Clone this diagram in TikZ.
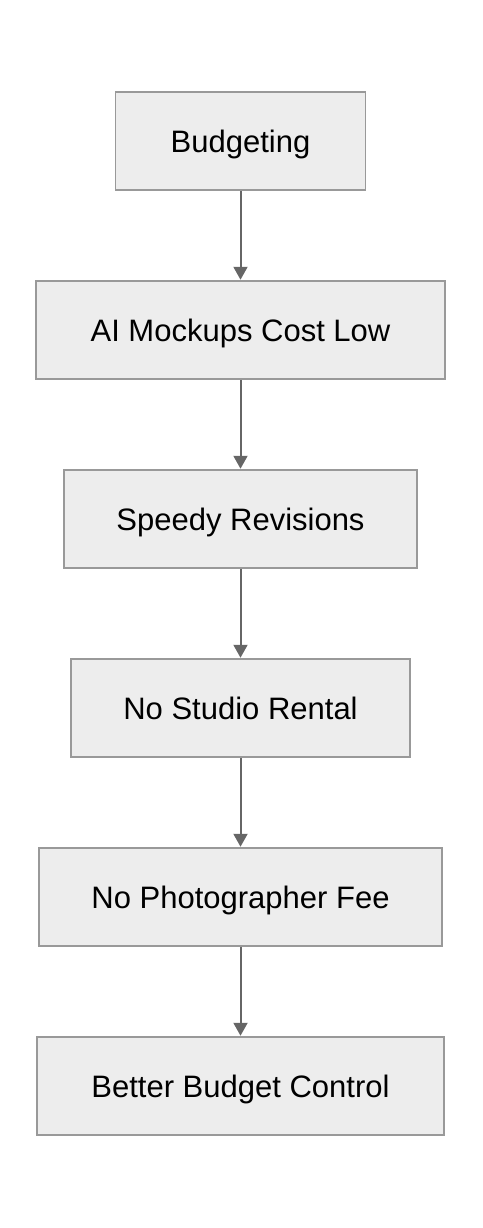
\documentclass[tikz,border=0pt]{standalone}
\usepackage{fontspec}
\setmainfont{Liberation Sans}
\usetikzlibrary{arrows.meta}
\begin{document}
\begin{tikzpicture}[x=1pt, y=-1pt]
  \tikzstyle{stepbox}=[rectangle, draw=black!40, fill=black!7, line width=1.5pt,
    minimum height=98pt, inner sep=0pt, text height=22pt, text depth=0pt,
    font=\fontsize{31}{36}\selectfont]
  \tikzstyle{flow}=[line width=2pt, draw=black!60,
    -{Triangle[length=13pt, width=14pt]}, shorten >=0.5pt]
  \useasboundingbox (0, 0) rectangle (482, 1228);
  \node[stepbox, minimum width=250pt] (S-budget) at (240.5, 141) {Budgeting};
  \node[stepbox, minimum width=409pt] (S-mockups) at (240.5, 330) {AI Mockups Cost Low};
  \node[stepbox, minimum width=353pt] (S-revisions) at (240.5, 519) {Speedy Revisions};
  \node[stepbox, minimum width=339pt] (S-studio) at (240.5, 708) {No Studio Rental};
  \node[stepbox, minimum width=403pt] (S-photo) at (240.5, 897) {No Photographer Fee};
  \node[stepbox, minimum width=407pt] (S-control) at (240.5, 1086) {Better Budget Control};
  \draw[flow] (S-budget) -- (S-mockups);
  \draw[flow] (S-mockups) -- (S-revisions);
  \draw[flow] (S-revisions) -- (S-studio);
  \draw[flow] (S-studio) -- (S-photo);
  \draw[flow] (S-photo) -- (S-control);
\end{tikzpicture}
\end{document}
